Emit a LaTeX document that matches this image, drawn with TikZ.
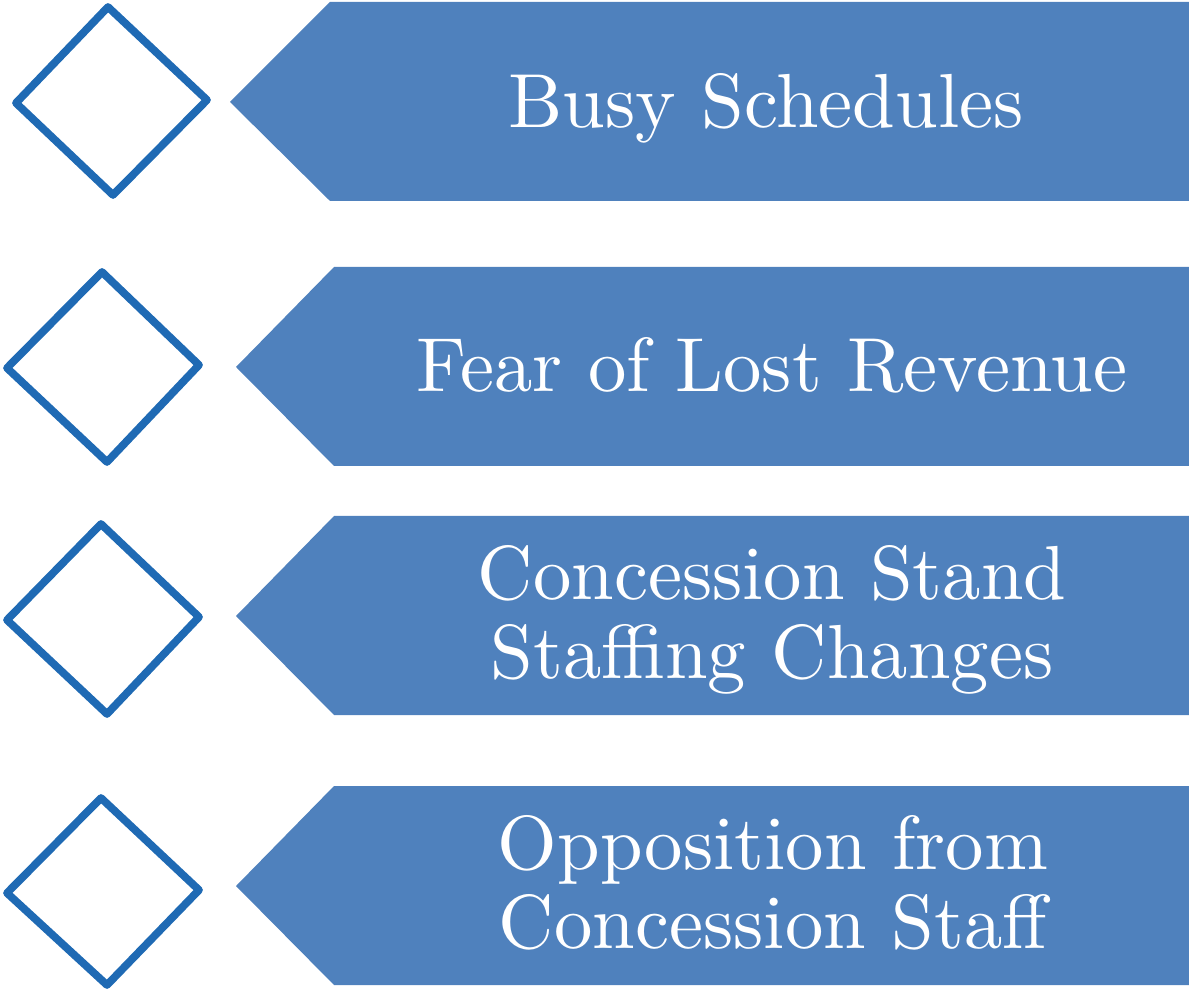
\documentclass[tikz,border=0pt]{standalone}
\usepackage{fontspec}
\newfontfamily\labelfont{lmroman10-regular}[Extension=.otf]
\definecolor{diamondblue}{RGB}{31,106,180}
\definecolor{arrowblue}{RGB}{79,129,189}
\tikzstyle{marker}=[draw=diamondblue, line width=2.2pt, line join=round]
\tikzstyle{banner}=[fill=arrowblue]
\tikzstyle{label}=[white, font=\labelfont\fontsize{21.8}{22.2}\selectfont, align=center, anchor=base, inner sep=0pt]

\begin{document}
\begin{tikzpicture}[x=0.01cm, y=-0.01cm]
\useasboundingbox (0,0) rectangle (1189,989);
% Diamonds
    \draw[marker] (16,103) -- (108,7) -- (207,100) -- (113,195) -- cycle;
    \draw[marker] (7,368) -- (102,272) -- (199,365) -- (107,462) -- cycle;
    \draw[marker] (7,620) -- (101,524) -- (199,617) -- (107,714) -- cycle;
    \draw[marker] (7,893) -- (101,798) -- (199,890) -- (107,985) -- cycle;
% Banners
    \fill[banner] (230,102) -- (330,2) -- (1189,2) -- (1189,201) -- (330,201) -- cycle;
    \fill[banner] (236,367) -- (334,267) -- (1189,267) -- (1189,466) -- (334,466) -- cycle;
    \fill[banner] (236,616) -- (334,516) -- (1189,516) -- (1189,715) -- (334,715) -- cycle;
    \fill[banner] (236,886) -- (334,786) -- (1189,786) -- (1189,985) -- (334,985) -- cycle;
% Labels (base = last line)
  \node[label] (busy) at (766,128) {Busy Schedules};
  \node[label] (fear) at (772,392) {Fear of Lost Revenue};
  \node[label] (stand) at (772,678) {Concession Stand\\Staffing Changes};
  \node[label] (staff) at (773,948) {Opposition from\\Concession Staff};

\end{tikzpicture}
\end{document}
